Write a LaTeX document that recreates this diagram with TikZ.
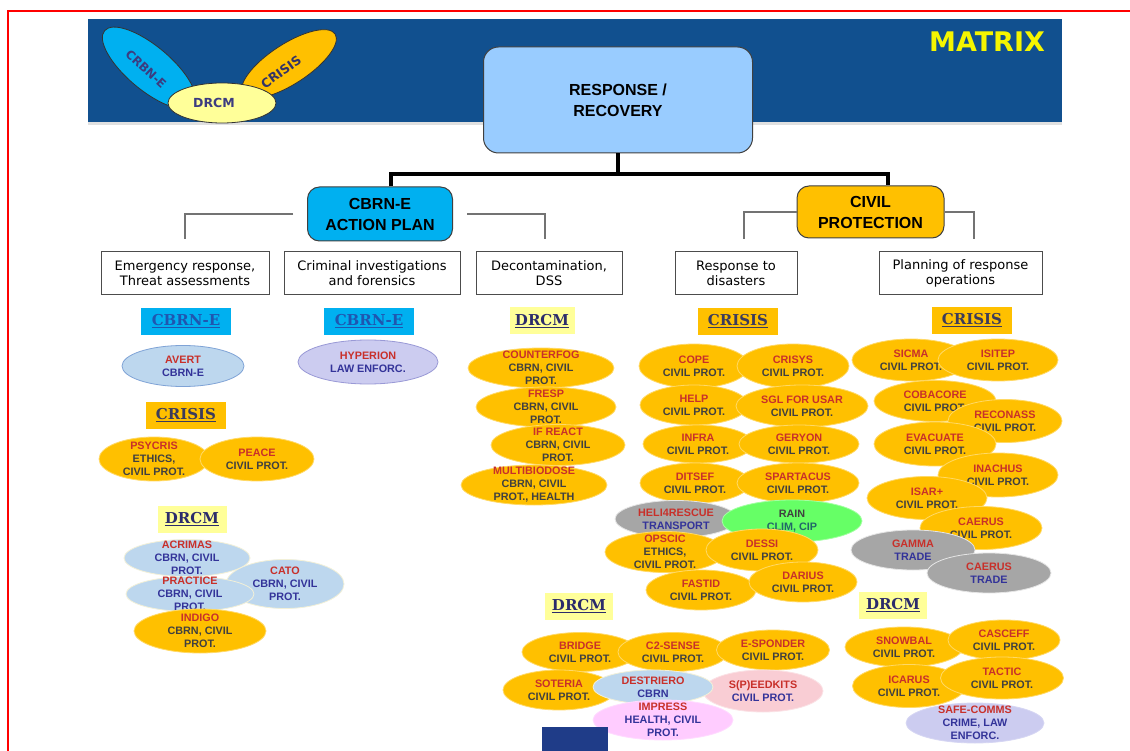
\documentclass[tikz,border=0pt]{standalone}
\usepackage{fontspec}
\setmainfont{Liberation Sans}
\newfontfamily\vfont{DejaVu Sans}
\newfontfamily\sfont{DejaVu Serif}
\usepackage{xcolor}
\usetikzlibrary{shapes.geometric,calc}

\definecolor{bannerblue}{HTML}{11508F}
\definecolor{respblue}{HTML}{99CCFF}
\definecolor{cbrncyan}{HTML}{00B0F0}
\definecolor{goldfill}{HTML}{FFC000}
\definecolor{goldedge}{HTML}{FFD966}
\definecolor{drcmfill}{HTML}{FFFF99}
\definecolor{skyfill}{HTML}{BDD7EE}
\definecolor{skyedge}{HTML}{7FA3D6}
\definecolor{paleedge}{HTML}{F2F0D8}
\definecolor{lilacfill}{HTML}{CCCCF0}
\definecolor{lilacedge}{HTML}{9999D6}
\definecolor{pinkfill}{HTML}{FFCCFF}
\definecolor{rosefill}{HTML}{F9CDD4}
\definecolor{greyfill}{HTML}{A6A6A6}
\definecolor{limefill}{HTML}{66FF66}
\definecolor{projred}{HTML}{C8302A}
\definecolor{darktxt}{HTML}{404040}
\definecolor{navytxt}{HTML}{333399}
\definecolor{tealtxt}{HTML}{216868}
\definecolor{tagblue}{HTML}{1F56B0}
\definecolor{tagdark}{HTML}{3B3B5C}
\definecolor{tagnavy}{HTML}{2B2B6B}
\definecolor{logotxt}{HTML}{3C3C80}
\definecolor{matrixyellow}{HTML}{F5F500}
\definecolor{navybar}{HTML}{1F3C88}

\newcommand{\pname}[1]{\textcolor{projred}{#1}\\}

\begin{document}
\begin{tikzpicture}[x=1pt,y=-1pt,
    hdr/.style={draw=black!75, line width=1pt, rounded corners=12pt, align=center, inner sep=0, font=\fontsize{16}{21}\selectfont\bfseries},
    topic/.style={draw=black!70, line width=1pt, fill=white, minimum height=43, inner sep=0, align=center, font=\vfont\fontsize{13}{15}\selectfont},
    tag/.style={minimum width=#1, minimum height=27, inner sep=0, font=\sfont\fontsize{15}{15}\selectfont\bfseries},
    trunk/.style={line width=4pt, black},
    twig/.style={line width=1.2pt, black!55},
    proj/.style={ellipse, inner sep=0, line width=0.8pt},
    gold/.style={proj, fill=goldfill, draw=goldedge},
    sky/.style={proj, fill=skyfill, draw=paleedge},
    lilac/.style={proj, fill=lilacfill, draw=lilacedge},
    grey/.style={proj, fill=greyfill, draw=black!10},
    ell/.style 2 args={minimum width=#1, minimum height=#2},
    plabel/.style={align=center, inner sep=0, font=\fontsize{10.8}{13}\selectfont\bfseries},
    dk/.style={label={[plabel, text=darktxt]center:{#1}}},
    nv/.style={label={[plabel, text=navytxt]center:{#1}}}
  ]
  \fill[white] (0,0) rectangle (1130,751);
  \useasboundingbox (0,0) rectangle (1130,751);
  \draw[red, line width=2.5pt] (8,751) -- (8,11) -- (1130,11);

  \fill[bannerblue] (88,19) rectangle (1062,122);
  \fill[black!12] (88,122) rectangle (1062,125);

  \node[ellipse, fill=cbrncyan, draw=black!80, line width=0.8pt, minimum width=116, minimum height=44, rotate=-40] (logocbrn) at (149,68) {};
  \node[rotate=-43, text=logotxt, font=\vfont\fontsize{12}{12}\selectfont\bfseries] (logocbrntxt) at (146,69) {CRBN-E};
  \node[ellipse, fill=goldfill, draw=black!80, line width=0.8pt, minimum width=110, minimum height=40, rotate=33] (logocris) at (289,64) {};
  \node[rotate=36, text=darktxt!80!blue, font=\vfont\fontsize{12.5}{12.5}\selectfont\bfseries] (logocristxt) at (281,72) {CRISIS};
  \node[ellipse, fill=drcmfill, draw=black!80, line width=0.8pt, minimum width=108, minimum height=40] (logodrcm) at (222,103) {};
  \node[text=logotxt, font=\vfont\fontsize{12.5}{12.5}\selectfont\bfseries] (logodrcmtxt) at (214,103) {DRCM};

  \node[text=matrixyellow, font=\vfont\fontsize{27}{27}\selectfont\bfseries] (matrix) at (987,42) {MATRIX};

  \node[hdr, fill=respblue, rounded corners=15pt, minimum width=269, minimum height=106] (resp) at (618,100) {RESPONSE /\\RECOVERY};
  \node[hdr, fill=cbrncyan, minimum width=145, minimum height=54] (cbrn) at (380,214) {CBRN-E\\ACTION PLAN};
  \node[hdr, fill=goldfill, minimum width=147, minimum height=52] (civil) at (870.5,212) {CIVIL\\PROTECTION};

  \coordinate (hub) at (618,174);
  \draw[trunk] (resp.south) -- (hub);
  \draw[trunk] ([xshift=11pt]cbrn.north) |- (hub) -| ([xshift=17pt]civil.north);

  \node[topic, minimum width=168] (emerg) at (185,273.5) {Emergency response,\\Threat assessments};
  \node[topic, minimum width=176] (crim) at (372,273.5) {Criminal investigations\\and forensics};
  \node[topic, minimum width=146] (decon) at (549,273.5) {Decontamination,\\DSS};
  \node[topic, minimum width=122] (disas) at (736,273) {Response to\\disasters};
  \node[topic, minimum width=163] (plan) at (960.5,273.5) {Planning of response\\operations};

  \coordinate (dropa) at (185,239);
  \coordinate (dropb) at (545,239);
  \coordinate (dropc) at (744,239);
  \coordinate (dropd) at (974,239);
  \draw[twig] ([xshift=-14pt]cbrn.west) -| (dropa);
  \draw[twig] ([xshift=14pt]cbrn.east) -| (dropb);
  \draw[twig] (civil.west) -| (dropc);
  \draw[twig] (civil.east) -| (dropd);

  \node[tag=90, fill=cbrncyan, text=tagblue] (tagcbrna) at (186,321.5) {\underline{CBRN-E}};
  \node[tag=90, fill=cbrncyan, text=tagblue] (tagcbrnb) at (369,321.5) {\underline{CBRN-E}};
  \node[tag=80, fill=goldfill, text=tagdark] (tagcrisa) at (186,415) {\underline{CRISIS}};
  \node[tag=69, fill=drcmfill, text=tagnavy] (tagdrcma) at (192,519) {\underline{DRCM}};
  \node[tag=65, fill=drcmfill, text=tagnavy] (tagdrcmb) at (542,321) {\underline{DRCM}};
  \node[tag=80, fill=goldfill, text=tagdark] (tagcrisb) at (738,321.5) {\underline{CRISIS}};
  \node[tag=80, fill=goldfill, text=tagdark] (tagcrisc) at (972,320.5) {\underline{CRISIS}};
  \node[tag=68, fill=drcmfill, text=tagnavy] (tagdrcmc) at (579,606.5) {\underline{DRCM}};
  \node[tag=68, fill=drcmfill, text=tagnavy] (tagdrcmd) at (893,605) {\underline{DRCM}};

  \node[sky, draw=skyedge, ell={122}{41}, nv={\pname{AVERT}CBRN-E}] (avert) at (183,366) {};
  \node[lilac, ell={140}{44}, nv={\pname{HYPERION}LAW ENFORC.}] (hyperion) at (368,362) {};
  \node[gold, ell={110}{44}, dk={\pname{PSYCRIS}ETHICS,\\CIVIL PROT.}] (psycris) at (154,459) {};
  \node[gold, ell={114}{44}, dk={\pname{PEACE}CIVIL PROT.}] (peace) at (257,459) {};

  \node[sky, ell={126}{37}, nv={\pname{ACRIMAS}CBRN, CIVIL\\PROT.}] (acrimas) at (187,558) {};
  \node[sky, ell={118}{49}, nv={\pname{CATO}CBRN, CIVIL\\PROT.}] (cato) at (285,584) {};
  \node[sky, ell={128}{35}, nv={\pname{PRACTICE}CBRN, CIVIL\\PROT.}] (practice) at (190,594) {};
  \node[gold, ell={132}{44}, dk={\pname{INDIGO}CBRN, CIVIL\\PROT.}] (indigo) at (200,631) {};

  \node[gold, ell={146}{40}, dk={\pname{COUNTERFOG}CBRN, CIVIL\\PROT.}] (counterfog) at (541,368) {};
  \node[gold, ell={140}{40}, dk={\pname{FRESP}CBRN, CIVIL\\PROT.}] (fresp) at (546,407) {};
  \node[gold, ell={134}{41}, dk={\pname{IF REACT}CBRN, CIVIL\\PROT.}] (ifreact) at (558,445) {};
  \node[gold, ell={146}{40}, dk={\pname{MULTIBIODOSE}CBRN, CIVIL\\PROT., HEALTH}] (multibiodose) at (534,485) {};

  \node[gold, ell={110}{44}, dk={\pname{COPE}CIVIL PROT.}] (cope) at (694,366) {};
  \node[gold, ell={112}{44}, dk={\pname{CRISYS}CIVIL PROT.}] (crisys) at (793,366) {};
  \node[gold, ell={108}{40}, dk={\pname{HELP}CIVIL PROT.}] (help) at (694,405) {};
  \node[gold, ell={132}{42}, dk={\pname{SGL FOR USAR}CIVIL PROT.}] (sgl) at (802,406) {};
  \node[gold, ell={110}{38}, dk={\pname{INFRA}CIVIL PROT.}] (infra) at (698,444) {};
  \node[gold, ell={120}{38}, dk={\pname{GERYON}CIVIL PROT.}] (geryon) at (799,444) {};
  \node[gold, ell={110}{40}, dk={\pname{DITSEF}CIVIL PROT.}] (ditsef) at (695,483) {};
  \node[gold, ell={122}{40}, dk={\pname{SPARTACUS}CIVIL PROT.}] (spartacus) at (798,483) {};
  \node[grey, ell={122}{37}, nv={\pname{HELI4RESCUE}TRANSPORT}] (heli) at (676,519) {};
  \node[proj, fill=limefill, draw=limefill!60!white, ell={140}{42}, label={[plabel, text=tealtxt]center:{\textcolor{darktxt}{RAIN}\\CLIM, CIP}}] (rain) at (792,521) {};
  \node[gold, ell={120}{41}, dk={\pname{OPSCIC}ETHICS,\\CIVIL PROT.}] (opscic) at (665,552) {};
  \node[gold, ell={112}{42}, dk={\pname{DESSI}CIVIL PROT.}] (dessi) at (762,550) {};
  \node[gold, ell={110}{40}, dk={\pname{FASTID}CIVIL PROT.}] (fastid) at (701,590) {};
  \node[gold, ell={108}{40}, dk={\pname{DARIUS}CIVIL PROT.}] (darius) at (803,582) {};

  \node[gold, ell={118}{42}, dk={\pname{SICMA}CIVIL PROT.}] (sicma) at (911,360) {};
  \node[gold, ell={120}{42}, dk={\pname{ISITEP}CIVIL PROT.}] (isitep) at (998,360) {};
  \node[gold, ell={122}{41}, dk={\pname{COBACORE}CIVIL PROT.}] (cobacore) at (935,401) {};
  \node[gold, ell={114}{43}, dk={\pname{RECONASS}CIVIL PROT.}] (reconass) at (1005,421) {};
  \node[gold, ell={122}{44}, dk={\pname{EVACUATE}CIVIL PROT.}] (evacuate) at (935,444) {};
  \node[gold, ell={120}{44}, dk={\pname{INACHUS}CIVIL PROT.}] (inachus) at (998,475) {};
  \node[gold, ell={120}{43}, dk={\pname{ISAR+}CIVIL PROT.}] (isar) at (927,498) {};
  \node[gold, ell={122}{43}, dk={\pname{CAERUS}CIVIL PROT.}] (caerusa) at (981,528) {};
  \node[grey, ell={124}{40}, nv={\pname{GAMMA}TRADE}] (gamma) at (913,550) {};
  \node[grey, ell={124}{40}, nv={\pname{CAERUS}TRADE}] (caerusb) at (989,573) {};

  \node[gold, ell={116}{39}, dk={\pname{BRIDGE}CIVIL PROT.}] (bridge) at (580,652) {};
  \node[gold, ell={110}{39}, dk={\pname{C2-SENSE}CIVIL PROT.}] (csense) at (673,652) {};
  \node[gold, ell={113}{40}, dk={\pname{E-SPONDER}CIVIL PROT.}] (esponder) at (773,650) {};
  \node[gold, ell={112}{40}, dk={\pname{SOTERIA}CIVIL PROT.}] (soteria) at (559,690) {};
  \node[proj, fill=rosefill, draw=rosefill!60!white, ell={120}{42}, nv={\pname{S(P)EEDKITS}CIVIL PROT.}] (speedkits) at (763,691) {};
  \node[sky, ell={120}{34}, nv={\pname{DESTRIERO}CBRN}] (destriero) at (653,687) {};
  \node[proj, fill=pinkfill, draw=pinkfill!70!white, ell={140}{40}, nv={\pname{IMPRESS}HEALTH, CIVIL\\PROT.}] (impress) at (663,720) {};
  \fill[navybar] (542,727) rectangle (608,751);

  \node[gold, ell={118}{40}, dk={\pname{SNOWBAL}CIVIL PROT.}] (snowbal) at (904,647) {};
  \node[gold, ell={112}{40}, dk={\pname{CASCEFF}CIVIL PROT.}] (casceff) at (1004,640) {};
  \node[gold, ell={113}{43}, dk={\pname{ICARUS}CIVIL PROT.}] (icarus) at (909,686) {};
  \node[gold, ell={123}{42}, dk={\pname{TACTIC}CIVIL PROT.}] (tactic) at (1002,678) {};
  \node[lilac, draw=lilacfill!80!white, ell={138}{40}, nv={\pname{SAFE-COMMS}CRIME, LAW\\ENFORC.}] (safecomms) at (975,723) {};
\end{tikzpicture}
\end{document}
